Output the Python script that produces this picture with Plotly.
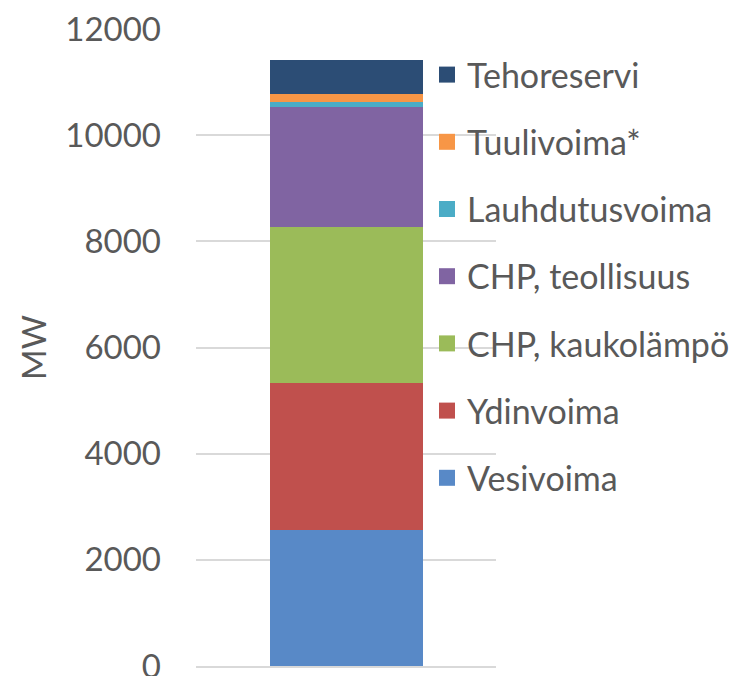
import plotly.graph_objects as go

category = [""]
series_names = ["Vesivoima", "Ydinvoima", "CHP, kaukolämpö", "CHP, teollisuus",
                "Lauhdutusvoima", "Tuulivoima*", "Tehoreservi"]
series_values = [2563, 2772, 2935, 2262, 94, 151, 641]
series_colors = ["#5889C7", "#C0504D", "#9BBB59", "#8064A2", "#4BACC6", "#F79646", "#2C4D75"]
y_ticks = [0, 2000, 4000, 6000, 8000, 10000, 12000]

FONT = "Lato"
GREY = "#595959"

fig = go.Figure()
for name, val, col in zip(series_names, series_values, series_colors):
    fig.add_trace(go.Bar(x=category, y=[val], name=name, marker_color=col,
                         marker_line_width=0, showlegend=False, hoverinfo="y+name"))
# legend proxies (larger square swatches), top of stack listed first
for name, col in reversed(list(zip(series_names, series_colors))):
    fig.add_trace(go.Scatter(x=[None], y=[None], mode="markers", name=name,
                             marker=dict(symbol="square", size=16, color=col),
                             legendgroup=name, showlegend=True))

fig.update_layout(
    width=738, height=676,
    margin=dict(l=196, r=242, t=29, b=10, autoexpand=False),
    barmode="stack", bargap=0.49,
    paper_bgcolor="white", plot_bgcolor="white",
    font=dict(family=FONT, color=GREY, size=33),
    showlegend=True,
    legend=dict(xref="container", x=0.5786, xanchor="left",
                yref="container", y=1 - 46 / 676, yanchor="top",
                traceorder="grouped", tracegroupgap=20, maxheight=660,
                font=dict(family=FONT, size=34, color=GREY),
                bgcolor="rgba(0,0,0,0)", borderwidth=0),
    xaxis=dict(showticklabels=False, showgrid=False, zeroline=False,
               showline=True, linecolor="#d9d9d9", linewidth=1.5, ticks=""),
    yaxis=dict(range=[0, 12000], tickvals=y_ticks, ticktext=[str(v) for v in y_ticks],
               showgrid=True, gridcolor="#d9d9d9", gridwidth=1.5, zeroline=False,
               showline=False, ticks="", ticklabelstandoff=34, ticklabeloverflow="allow",
               tickfont=dict(family=FONT, size=33, color=GREY),
               title=dict(text="MW", font=dict(family=FONT, size=33, color=GREY), standoff=8)),
)

fig.write_html("out.html", config={"displayModeBar": False},
               post_script="document.body.style.margin='0';document.body.style.overflow='hidden';")
